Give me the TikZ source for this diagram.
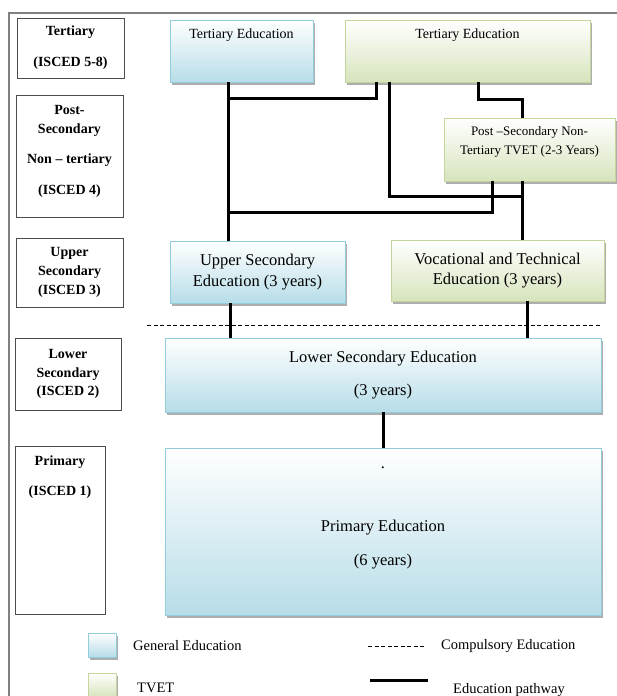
\documentclass[tikz,border=0pt]{standalone}
\usepackage{fontspec}
\setmainfont{Liberation Serif}
\usetikzlibrary{calc,shadows}

\definecolor{genblue}{RGB}{183,221,232}
\definecolor{genedge}{RGB}{146,205,220}
\definecolor{tvetgreen}{RGB}{215,228,189}
\definecolor{tvetedge}{RGB}{195,214,155}

\begin{document}
\begin{tikzpicture}[x=1pt,y=-1pt,
  genbox/.style={draw=genedge, line width=0.8pt, top color=white, bottom color=genblue,
    drop shadow={shadow xshift=2pt,shadow yshift=-2.5pt,fill=black!45,opacity=.7},
    inner sep=0pt, align=center, font=\fontsize{16.5}{19.8}\selectfont},
  tvetbox/.style={genbox, draw=tvetedge, bottom color=tvetgreen},
  isced/.style={draw=black!70, line width=1pt, inner sep=0pt, align=center,
    font=\fontsize{14}{16.8}\selectfont\bfseries},
  key/.style={inner sep=0pt, font=\fontsize{14.5}{17}\selectfont},
  route/.style={line width=3pt},
  compulsory/.style={line width=0.8pt, dash pattern=on 4pt off 2.5pt}]
\useasboundingbox (0,0) rectangle (617,696);
\draw[black!50, line width=1.5pt] (617,13) -- (9,13) -- (9,696);

% levels
\node[isced, minimum width=107, minimum height=60] (lter) at (70.5,48) {Tertiary\\[14pt](ISCED 5-8)};
\node[isced, minimum width=107, minimum height=122, text height=99pt, text depth=23pt] (lpost) at (69.5,156)
  {Post-\\[2pt]Secondary\\[13pt]Non -- tertiary\\[14pt](ISCED 4)};
\node[isced, minimum width=107, minimum height=69] (lupp) at (69.5,272.5) {Upper\\[2pt]Secondary\\[2pt](ISCED 3)};
\node[isced, minimum width=106, minimum height=72] (llow) at (68,374) {Lower\\[2pt]Secondary\\[2pt](ISCED 2)};
\node[isced, minimum width=90, minimum height=168, text height=49pt, text depth=119pt] (lprim) at (60,530)
  {Primary\\[13pt](ISCED 1)};

% education boxes
\node[genbox, minimum width=143, minimum height=62, text height=18.5pt, text depth=43.5pt,
  font=\fontsize{14}{16.8}\selectfont] (terb) at (241.5,51) {Tertiary Education};
\node[tvetbox, minimum width=245, minimum height=62, text height=18.5pt, text depth=43.5pt,
  font=\fontsize{14}{16.8}\selectfont] (terg) at (467.5,51) {Tertiary Education};
\node[tvetbox, minimum width=171, minimum height=63, text height=36pt, text depth=27pt,
  font=\fontsize{13}{15.6}\selectfont] (post) at (529.5,149.5) {Post --Secondary Non-\\[3.4pt]Tertiary TVET (2-3 Years)};
\node[genbox, minimum width=175, minimum height=62] (usec) at (257.5,272) {Upper Secondary\\[1pt]Education (3 years)};
\node[tvetbox, minimum width=213, minimum height=61] (voc) at (497.5,270.5) {Vocational and Technical\\Education (3 years)};
\node[genbox, minimum width=436, minimum height=74] (lsec) at (383,375) {Lower Secondary Education\\[13pt](3 years)};
\node[genbox, minimum width=436, minimum height=167, text height=117pt, text depth=50pt] (prim) at (383,531.5)
  {.\\[43pt]Primary Education\\[14pt](6 years)};

\draw[compulsory] (147,325) -- (600,325);

% pathways
\coordinate (tb) at ($(terb.south west)+(59,0)$);
\coordinate (tg1) at ($(terg.south west)+(32,0)$);
\coordinate (tg2) at ($(terg.south west)+(45,0)$);
\coordinate (tg3) at ($(terg.south west)+(134,0)$);
\coordinate (pl) at ($(post.south west)+(49,0)$);
\coordinate (pr) at ($(post.south west)+(79,0)$);
\coordinate (us) at ($(usec.south west)+(61,0)$);
\coordinate (vb) at ($(voc.south west)+(137,0)$);
\draw[route] (tb) -- (tb |- usec.north);
\draw[route] (tg1) |- ($(tb)+(0,16)$);
\draw[route] (pl) |- ($(tb |- pl)+(0,31)$);
\draw[route] (tg2) |- ($(pr)+(0,15)$);
\draw[route] (tg3) -- ++(0,17) -| (pr |- post.north);
\draw[route] (pr) -- (pr |- voc.north);
\draw[route] (us) -- (us |- lsec.north);
\draw[route] (vb) -- (vb |- lsec.north);
\draw[route] (lsec.south) -- (prim.north);

% key
\node[genbox, minimum width=28, minimum height=24] (kgen) at (102,645) {};
\node[tvetbox, minimum width=28, minimum height=24] (ktvet) at (102,685) {};
\node[key, anchor=west] (tgen) at (133,646) {General Education};
\node[key, anchor=west] (ttvet) at (137,688) {TVET};
\coordinate (kc1) at (368,646);
\coordinate (kc2) at (425,646);
\draw[compulsory] (kc1) -- (kc2);
\node[key, anchor=west] (tcomp) at (441,646) {Compulsory Education};
\coordinate (kp1) at (370,680);
\coordinate (kp2) at (428,680);
\draw[route] (kp1) -- (kp2);
\node[key, anchor=west] (tpath) at (453,690) {Education pathway};
\end{tikzpicture}
\end{document}
